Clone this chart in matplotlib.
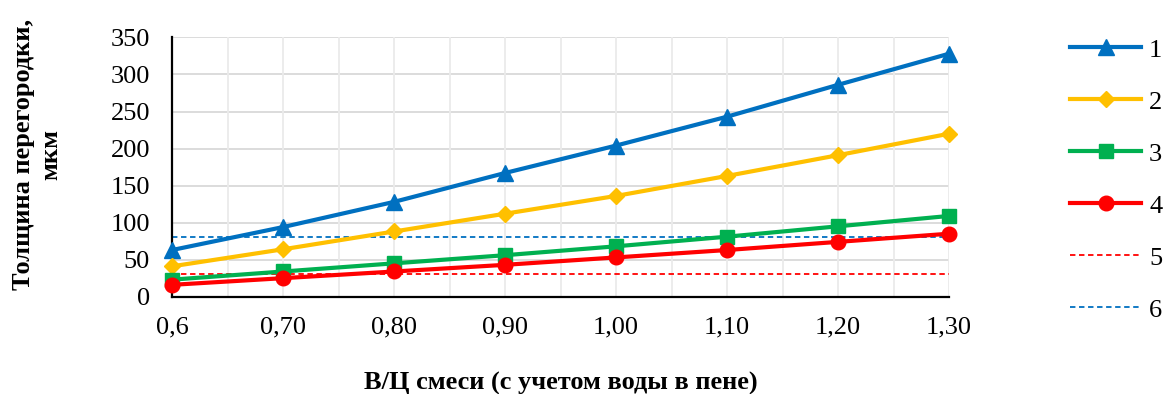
import matplotlib

matplotlib.use("Agg")
import matplotlib.pyplot as plt
import numpy as np

plt.rcParams["font.family"] = ["Liberation Serif", "DejaVu Serif"]

# data
wc_ratio = [0.6, 0.7, 0.8, 0.9, 1.0, 1.1, 1.2, 1.3]
tick_labels = ["0,6", "0,70", "0,80", "0,90", "1,00", "1,10", "1,20", "1,30"]
series_1 = [63, 94, 128, 167, 204, 243, 286, 328]
series_2 = [41, 64, 88, 112, 136, 163, 191, 220]
series_3 = [23, 34, 45, 56, 68, 81, 95, 109]
series_4 = [16, 25, 34, 43, 53, 63, 74, 85]
level_5 = 30
level_6 = 80
legend_labels = ["1", "2", "3", "4", "5", "6"]

fig = plt.figure(figsize=(11.63, 3.94), dpi=100)
ax = fig.add_axes([0.148, 0.247, 0.668, 0.658])

# grid: horizontal darker, vertical at half steps lighter
for y in range(50, 351, 50):
    ax.axhline(y, color="#d9d9d9", lw=1.3, zorder=0)
for x in np.arange(0.65, 1.31, 0.05):
    ax.axvline(x, color="#ebebeb", lw=1.3, zorder=0)

lines = []
styles = [
    (series_1, "#0070C0", "^", 11),
    (series_2, "#FFC000", "D", 8),
    (series_3, "#00B050", "s", 9.5),
    (series_4, "#FF0000", "o", 10.5),
]
for vals, col, mk, ms in styles:
    (ln,) = ax.plot(wc_ratio, vals, color=col, lw=3, marker=mk, ms=ms,
                    clip_on=False, zorder=3)
    lines.append(ln)

(l5,) = ax.plot([wc_ratio[0], wc_ratio[-1]], [level_5, level_5], color="#FF0000",
                lw=1.3, ls=(0, (3, 2)), zorder=2)
(l6,) = ax.plot([wc_ratio[0], wc_ratio[-1]], [level_6, level_6], color="#0070C0",
                lw=1.3, ls=(0, (3, 2)), zorder=2)
lines += [l5, l6]

ax.set_xlim(0.6, 1.3)
ax.set_ylim(0, 350)
ax.set_xticks(wc_ratio)
ax.set_xticklabels(tick_labels)
ax.set_yticks(range(0, 351, 50))
ax.tick_params(axis="both", length=0, labelsize=19)
ax.tick_params(axis="x", pad=14)
ax.tick_params(axis="y", pad=16)
for s in ["top", "right"]:
    ax.spines[s].set_visible(False)
for s in ["left", "bottom"]:
    ax.spines[s].set_color("black")
    ax.spines[s].set_linewidth(1.6)

fig.text(0.482, 0.028, "В/Ц смеси (с учетом воды в пене)", fontsize=19,
         fontweight="bold", ha="center", va="center")
fig.text(0.020, 0.607, "Толщина перегородки,", rotation=90, fontsize=19,
         fontweight="bold", ha="center", va="center")
fig.text(0.044, 0.607, "мкм", rotation=90, fontsize=19,
         fontweight="bold", ha="center", va="center")

fig.legend(lines, legend_labels, loc="upper left", bbox_to_anchor=(0.920, 0.903),
           frameon=False, fontsize=19, handlelength=2.7, handletextpad=0.3,
           labelspacing=1.08, borderpad=0, borderaxespad=0, numpoints=1)

fig.savefig("out.png", dpi=100)
